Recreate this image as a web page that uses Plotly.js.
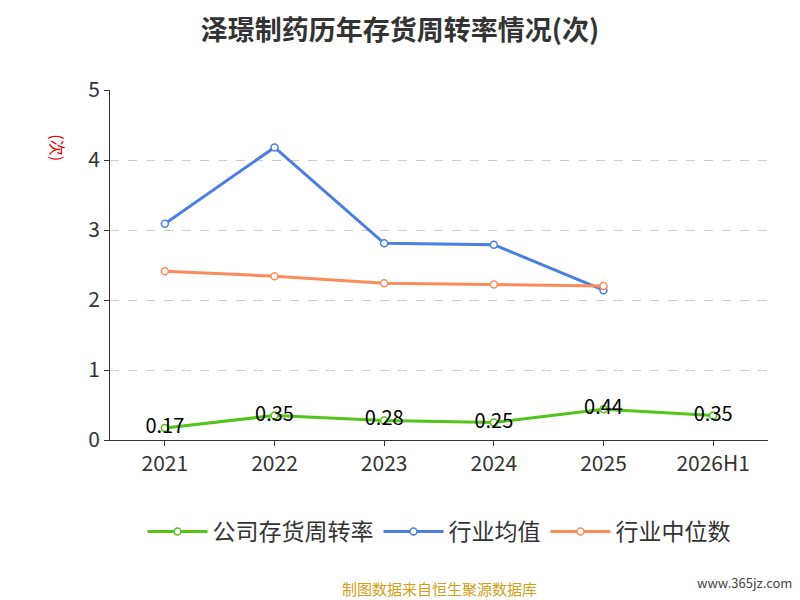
<!DOCTYPE html>
<html><head><meta charset="utf-8">
<script src="https://cdn.plot.ly/plotly-3.0.1.min.js"></script>
<style>body{margin:0}</style></head>
<body><div id="chart" style="width:800px;height:600px"></div>
<script>
const years = ['2021', '2022', '2023', '2024', '2025', '2026H1'];
const companyTurnover = [0.17, 0.35, 0.28, 0.25, 0.44, 0.35];
const industryAvg = [3.09, 4.18, 2.81, 2.79, 2.14];
const industryMedian = [2.41, 2.34, 2.24, 2.22, 2.20];

const font = 'Noto Sans CJK SC, Noto Sans, sans-serif';

const traces = [
    {
        x: years, y: companyTurnover, name: '公司存货周转率', type: 'scatter', mode: 'lines+markers+text',
        text: companyTurnover.map(v => v.toFixed(2)), textposition: 'middle center',
        textfont: { size: 20, color: '#000' },
        line: { color: '#52c41a', width: 3 }, marker: { size: 7, color: '#fff', line: { color: '#52c41a', width: 1.5 } }
    },
    {
        x: years.slice(0, 5), y: industryAvg, name: '行业均值', type: 'scatter', mode: 'lines+markers',
        line: { color: '#4a7fe0', width: 3 }, marker: { size: 7, color: '#fff', line: { color: '#4a7fe0', width: 1.5 } }
    },
    {
        x: years.slice(0, 5), y: industryMedian, name: '行业中位数', type: 'scatter', mode: 'lines+markers',
        line: { color: '#fa8c5a', width: 3 }, marker: { size: 7, color: '#fff', line: { color: '#fa8c5a', width: 1.5 } }
    }
];

const layout = {
    width: 800, height: 600,
    margin: { l: 110, r: 32, t: 90, b: 160 },
    font: { family: font, color: '#333' },
    title: { text: '<b>泽璟制药历年存货周转率情况(次)</b>', x: 0.5, y: 0.965, font: { size: 27, color: '#333' } },
    xaxis: {
        type: 'category', showline: true, linecolor: '#333', ticks: 'outside', tickcolor: '#333',
        tickfont: { size: 21 }, showgrid: false, range: [-0.5, 5.5]
    },
    yaxis: {
        range: [0, 5], dtick: 1, showline: true, linecolor: '#333', ticks: 'outside', tickcolor: '#333',
        tickfont: { size: 21 }, gridcolor: '#ccc', griddash: 'dash', zeroline: false
    },
    showlegend: true,
    legend: { orientation: 'h', x: 0.5, xanchor: 'center', y: -0.2, font: { size: 23 }, itemwidth: 60 },
    annotations: [
        { text: '(次)', xref: 'paper', yref: 'paper', x: -0.1, y: 0.88, showarrow: false, textangle: 90, font: { size: 16, color: '#e00' } },
        { text: '制图数据来自恒生聚源数据库', xref: 'paper', yref: 'paper', x: 0.5, y: -0.46, showarrow: false, xanchor: 'center', font: { size: 15, color: '#d4a017' } },
        { text: 'www.365jz.com', xref: 'paper', yref: 'paper', x: 1.04, y: -0.44, showarrow: false, xanchor: 'right', font: { size: 13, color: '#444' } }
    ]
};

Plotly.newPlot('chart', traces, layout, { displayModeBar: false });
</script></body></html>
